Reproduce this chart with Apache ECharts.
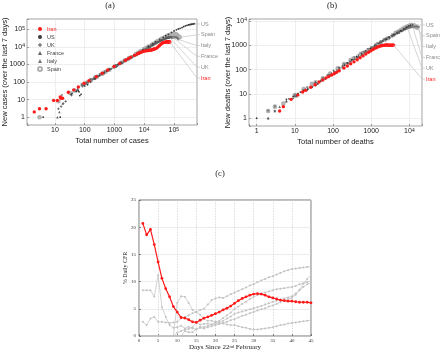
<!DOCTYPE html>
<html>
<head>
<meta charset="utf-8">
<script src="https://cdn.jsdelivr.net/npm/echarts@6/dist/echarts.min.js"></script>
<style>
html, body { margin: 0; padding: 0; background: #fff; }
#chart { width: 440px; height: 351px; }
</style>
</head>
<body>
<div id="chart"></div>
<script>
// (a) total cases vs new cases over the last 7 days, [total, new]
const casesIran = [[2,2],[3,3],[5,3],[9,9],[12,9],[15,14],[16,12],[18,12],[28,26],[43,36],[61,52],[95,85],[139,120],[245,200],[388,320],[593,480],[978,760],[1501,1150],[2336,1750],[2922,2150],[3513,2600],[4747,3300],[5823,3900],[6566,4300],[7161,4600],[8042,5000],[9000,5400],[10075,5700],[11364,5900],[12729,6100],[13938,6200],[14991,6300],[16169,6400],[17361,6600],[18407,6800],[19644,7000],[20610,7300],[21638,7500],[23049,7700],[24811,8000],[27017,8800],[29406,10000],[32332,11500],[35408,13500],[38309,15000],[41495,16500],[44605,17500],[47593,18000],[50468,18500],[53183,19000],[55743,19200],[58226,19500],[60500,19600],[62589,19600],[64586,19500],[66220,19400],[68192,19200],[70029,19000],[71686,19000],[73303,19000]]
const casesUS = [[4,1],[15,1],[35,20],[53,30],[60,33],[64,28],[68,17],[75,20],[100,60],[124,70],[158,100],[221,150],[319,230],[435,330],[541,420],[704,540],[994,760],[1301,1000],[1630,1250],[2183,1650],[2770,2100],[3613,2700],[4596,3400],[6344,4700],[9197,6800],[13779,10500],[19367,15000],[24192,19000],[33592,27000],[43734,35000],[53740,43000],[65778,52000],[83836,66000],[101657,80000],[121478,93000],[140886,104000],[161807,114000],[188172,126000],[213372,140000],[243453,155000],[275586,168000],[308850,178000],[337072,184000],[366667,189000],[396223,194000],[429052,199000],[461437,204000],[496535,208000]]
const casesUK = [[13,3],[16,4],[19,6],[23,8],[36,18],[51,30],[85,62],[115,90],[163,130],[206,165],[273,215],[321,250],[373,280],[456,340],[590,430],[798,570],[1140,800],[1391,950],[1543,1050],[1950,1300],[2626,1750],[3269,2150],[3983,2600],[5018,3200],[5683,3600],[6650,4200],[8077,5100],[9529,6100],[11658,7500],[14543,9300],[17089,11000],[19522,12500],[22141,14500],[25150,16000],[29474,18500],[33718,21000],[38168,23500],[41903,25000],[47806,28000],[51608,29500],[55242,30500],[60733,32000],[65077,33000],[70272,33500],[73758,33000]]
const casesFrance = [[12,1],[14,2],[18,6],[38,24],[57,42],[100,80],[130,105],[191,155],[212,170],[285,230],[423,330],[653,500],[949,700],[1126,820],[1209,850],[1784,1250],[2281,1600],[2876,2000],[3661,2500],[4499,3000],[5423,3500],[6633,4300],[7730,5000],[9134,5900],[10995,7000],[12612,8000],[14459,9200],[16018,10200],[19856,13000],[22304,14800],[25233,16800],[29155,19500],[32964,21500],[37575,24500],[40174,25500],[44550,27500],[52128,31500],[56989,33000],[59105,33500],[64338,35000],[68605,36000],[70478,36000],[74390,37000],[78167,37500],[82048,37500],[86334,36500],[90676,35500]]
const casesItaly = [[17,17],[79,70],[157,140],[229,200],[323,270],[470,380],[655,520],[889,690],[1128,860],[1694,1300],[2036,1550],[2502,1900],[3089,2300],[3858,2800],[4636,3300],[5883,4200],[7375,5200],[9172,6400],[10149,7000],[12462,8600],[15113,10500],[17660,12300],[21157,14800],[24747,17000],[27980,18000],[31506,19400],[35713,20600],[41035,23600],[47021,26900],[53578,29100],[59138,31600],[63927,32200],[69176,33200],[74386,33600],[80589,33500],[86498,33000],[92472,32800],[97689,33000],[101739,33600],[105792,33200],[110574,33800],[115242,33600],[119827,33200],[124632,32200],[128948,30600],[132547,29000],[135586,27700],[139422,27000],[143626,26200]]
const casesSpain = [[3,1],[13,8],[32,24],[45,33],[84,65],[120,95],[165,130],[222,175],[259,200],[400,300],[500,380],[673,500],[1073,800],[1695,1250],[2277,1700],[3146,2300],[5232,3900],[6391,4700],[7798,5800],[9942,7400],[11748,8700],[13910,10300],[17963,13300],[20410,15000],[25374,19000],[28603,21500],[35136,26500],[39885,29500],[49515,35000],[57786,40000],[65719,45000],[73235,47600],[80110,50000],[87956,52000],[95923,53000],[104118,54000],[112065,53500],[119199,51000],[126168,48000],[131646,44000],[136675,40000],[141942,38000],[148220,37000],[153222,36000],[158273,35000]]

// (b) total deaths vs new deaths over the last 7 days, [total, new]
const deathsIran = [[4,2],[5,3],[8,6],[12,9],[16,12],[19,14],[26,19],[34,24],[43,31],[54,38],[66,46],[77,52],[92,60],[107,68],[124,78],[145,90],[194,118],[237,142],[291,175],[354,210],[429,255],[514,310],[611,370],[724,440],[853,520],[988,600],[1135,690],[1284,770],[1433,840],[1556,890],[1685,930],[1812,960],[1934,990],[2077,1000],[2234,1020],[2378,1040],[2517,1040],[2640,1040],[2757,1030],[2898,1030],[3036,1030],[3160,1030],[3294,1010],[3452,1020],[3603,1030],[3739,1030],[3872,1030]]
const deathsUS = [[1,1],[6,6],[9,8],[11,9],[12,10],[14,12],[17,14],[21,15],[22,16],[28,19],[36,24],[40,26],[47,33],[54,36],[63,41],[85,57],[108,72],[118,71],[200,153],[244,190],[307,253],[417,354],[557,470],[706,590],[942,750],[1209,950],[1581,1200],[2026,1500],[2467,1800],[2978,2100],[3873,2800],[4757,3300],[5926,4000],[7087,4800],[8407,5600],[9619,6300],[10783,6800],[12300,7000]]
const deathsUK = [[2,1],[3,2],[6,5],[8,6],[10,8],[21,19],[35,30],[55,45],[71,60],[104,90],[144,120],[177,140],[233,180],[281,220],[335,260],[422,320],[465,340],[578,400],[759,530],[1019,700],[1228,850],[1408,950],[1789,1300],[2352,1750],[2921,2150],[3605,2600],[4313,2900],[4934,3200],[5373,3600],[6159,3800],[7097,4300],[7978,4600],[8958,5000]]
const deathsFrance = [[2,1],[3,2],[4,3],[6,5],[9,7],[11,8],[19,16],[33,25],[48,37],[79,60],[91,72],[127,94],[148,115],[175,127],[264,185],[372,281],[450,323],[562,414],[674,500],[860,600],[1100,836],[1331,1067],[1696,1432],[1995,1623],[2314,1850],[2606,1932],[3024,2164],[3523,2423],[4032,2701],[5387,3391],[6507,4193],[7560,5000],[8078,5400],[8911,5800],[10328,6100],[10869,6000],[12210,5900]]
const deathsItaly = [[2,2],[3,3],[7,6],[10,9],[12,10],[17,14],[21,14],[29,19],[34,22],[52,35],[79,58],[107,78],[148,114],[197,163],[233,186],[366,314],[463,384],[631,517],[827,680],[1016,820],[1266,1030],[1441,1208],[1809,1443],[2158,1695],[2503,1876],[2978,2150],[3405,2389],[4032,2766],[4825,3380],[5476,3667],[6077,3868],[6820,4317],[7503,4525],[8165,4760],[9134,5100],[10023,5200],[10779,5300],[11591,5500],[12428,5600],[13155,5700],[13915,5750],[14681,5800],[15362,5800],[15887,5750],[16523,5700],[17127,5600],[17669,5500]]
const deathsSpain = [[2,2],[3,3],[5,4],[10,9],[17,16],[28,26],[35,30],[54,44],[84,70],[133,115],[195,170],[289,250],[342,290],[533,450],[623,500],[830,640],[1043,750],[1375,1000],[1772,1240],[2311,1700],[2808,2000],[3647,2600],[4365,3300],[5138,3700],[5982,4300],[6803,4900],[7716,5400],[8464,5800],[9387,6200],[10348,6600],[11198,6800],[11947,6900],[12641,6700],[13341,6500],[14045,6200],[14792,5900],[15447,5600],[16081,5300]]

// (c) daily case fatality rate, %
const cfrDays = [1,2,3,4,5,6,7,8,9,10,11,12,13,14,15,16,17,18,19,20,21,22,23,24,25,26,27,28,29,30,31,32,33,34,35,36,37,38,39,40,41,42,43,44,45]
const cfrIran = [20.7,18.6,19.6,16.8,13.6,10.6,8.7,7.2,5.4,4.4, 3.4,3.3,3.0,2.6,2.5,2.9,3.3,3.5,3.8,4.1, 4.4,4.8,5.1,5.5,6.0,6.5,6.9,7.2,7.5,7.7, 7.8,7.7,7.5,7.2,7.0,6.8,6.6,6.5,6.4,6.4, 6.3,6.2,6.2,6.2,6.1]
const cfrItaly = [2.6,2.0,3.2,3.5,2.6,2.6,2.5,2.4,2.5,2.6, 3.2,3.5,3.8,4.2,4.4,4.8,5.0,5.8,6.6,6.9, 7.1,7.0,7.3,7.7,8.0,8.3,8.6,8.9,9.3,9.5, 9.9,10.2,10.5,10.8,11.0,11.3,11.6,11.9,12.1,12.3, 12.4,12.5,12.6,12.7,12.7]
const cfrFrance = [8.4,8.4,8.4,7.2,11.2,5.3,3.5,2.0,1.5,1.6, 1.9,1.4,1.7,1.4,1.2,1.7,1.6,1.9,2.1,2.2, 2.5,2.8,3.2,3.6,4.1,4.3,4.5,4.7,4.9,5.1, 5.3,5.5,5.8,6.0,6.3,6.5,6.7,6.9,7.1,7.3, 7.8,8.4,9.0,9.5,9.8]
const cfrSpain = [0,0,0,0,0,0,0,0,0,0.6, 0.9,1.2,1.3,1.6,2.5,2.1,2.2,2.3,2.1,2.6, 2.8,3.3,3.8,4.3,5.0,5.4,5.9,6.3,6.8,7.2, 7.5,7.8,8.0,8.2,8.4,8.6,8.7,8.8,8.9,9.0, 9.2,9.5,9.7,9.9,10.1]
const cfrUK = [0,0,0,0,0,0,0,0,0,0, 0,0.9,0.7,0.7,1.3,1.5,1.4,1.6,1.8,2.0, 2.2,2.4,2.6,2.9,3.1,3.4,3.7,3.9,4.2,4.4, 4.7,4.9,5.1,5.4,5.6,5.9,6.2,6.5,6.8,7.0, 7.6,8.5,9.6,10.5,11.2]
const cfrUS = [0,0,0,0,0,0,0,0,0,6.1, 7.3,7.2,6.1,4.8,4.4,3.9,3.1,2.8,2.8,2.6, 2.4,2.3,2.1,2.0,2.0,1.8,1.6,1.5,1.3,1.2, 1.2,1.3,1.4,1.5,1.6,1.8,2.0,2.1,2.3,2.4, 2.5,2.6,2.7,2.8,2.9]

const legendNames = ['Iran', 'US', 'UK', 'France', 'Italy', 'Spain']
const leaderNames = ['US', 'Spain', 'Italy', 'France', 'UK', 'Iran']

const SANS = 'Liberation Sans'
const SERIF = 'Liberation Serif'

const look = {
  Iran: {symbol: 'circle', size: 3.4, color: '#ff1a1a', z: 4},
  US: {symbol: 'circle', size: 1.8, color: '#3a3a3a', z: 3},
  UK: {symbol: 'path://M3,0h2v3h3v2h-3v3h-2v-3h-3v-2h3z', size: 2.6, color: '#555', z: 3},
  France: {symbol: 'triangle', size: 2.5, color: '#666', z: 3},
  Italy: {symbol: 'triangle', size: 2.5, color: '#777', rotate: 180, z: 3},
  Spain: {symbol: 'emptyCircle', size: 2.6, color: '#b0b0b0', z: 2}
}

function decadeLabel(v) {
  const l = Math.log10(v)
  const e = Math.round(l)
  if (Math.abs(l - e) > 1e-6) return ''
  if (e <= 3) return String(Math.pow(10, e))
  return '10{sup|' + e + '}'
}

function logAxis(extra) {
  return Object.assign({
    type: 'log',
    logBase: 10,
    axisLine: {show: false},
    axisTick: {show: true, inside: true, length: 2, lineStyle: {color: '#888', width: 0.8}},
    axisLabel: {
      formatter: decadeLabel,
      fontSize: 7, fontFamily: SANS, color: '#222', margin: 2,
      rich: {sup: {fontSize: 5, fontFamily: SANS, color: '#222', verticalAlign: 'top'}}
    },
    splitLine: {show: true, lineStyle: {color: '#d6d6d6', type: 'dotted', width: 0.8}},
    nameLocation: 'middle',
    nameMoveOverlap: false,
    nameTextStyle: {fontSize: 7.5, fontFamily: SANS, color: '#222'}
  }, extra)
}

function scatter(name, data, idx) {
  const s = look[name]
  return {
    type: 'scatter', name: name, data: data,
    xAxisIndex: idx, yAxisIndex: idx,
    symbol: s.symbol, symbolSize: s.size, symbolRotate: s.rotate || 0,
    itemStyle: {color: s.color, borderWidth: s.symbol === 'emptyCircle' ? 0.7 : 0, opacity: 1},
    z: s.z, silent: true
  }
}

function leaders(idx, ends, dy) {
  return {
    type: 'custom', xAxisIndex: idx, yAxisIndex: idx, silent: true, z: 5,
    data: ends,
    renderItem: function (params, api) {
      const p = api.coord([api.value(0), api.value(1)])
      const cs = params.coordSys
      const i = api.value(2)
      const ly = cs.y + dy + i * 10.8
      const rx = cs.x + cs.width
      return {
        type: 'group',
        children: [
          {type: 'polyline', shape: {points: [p, [rx, ly], [rx + 3, ly]]},
            style: {stroke: '#c4c4c4', lineWidth: 0.7, fill: null}},
          {type: 'text', style: {x: rx + 4, y: ly, text: leaderNames[i],
            fill: i === 5 ? '#ff1a1a' : '#8a8a8a', fontSize: 5.5, fontFamily: SANS,
            verticalAlign: 'middle'}}
        ]
      }
    }
  }
}

const last = a => a[a.length - 1]
const endsA = [casesUS, casesSpain, casesItaly, casesFrance, casesUK, casesIran].map((a, i) => [last(a)[0], last(a)[1], i])
const endsB = [deathsUS, deathsSpain, deathsItaly, deathsFrance, deathsUK, deathsIran].map((a, i) => [last(a)[0], last(a)[1], i])

function cfrLine(name, vals, red) {
  return {
    type: 'line', name: name + ' CFR',
    data: cfrDays.map((d, i) => [d, vals[i]]),
    xAxisIndex: 2, yAxisIndex: 2,
    symbol: 'circle', symbolSize: red ? 2.8 : 2, showSymbol: true,
    lineStyle: {color: red ? '#ff1a1a' : '#c6c6c6', width: red ? 1.2 : 0.8},
    itemStyle: {color: red ? '#ff1a1a' : '#c2c2c2', borderWidth: 0},
    z: red ? 4 : 2, silent: true
  }
}

const chart = echarts.init(document.getElementById('chart'), null, {renderer: 'canvas'})

const option = {
  backgroundColor: '#fff',
  animation: false,
  title: [
    {text: '(a)', left: 110, top: 1, padding: 0, textAlign: 'center',
      textStyle: {fontFamily: SERIF, fontSize: 8.5, fontWeight: 'normal', color: '#222'}},
    {text: '(b)', left: 332, top: 1, padding: 0, textAlign: 'center',
      textStyle: {fontFamily: SERIF, fontSize: 8.5, fontWeight: 'normal', color: '#222'}},
    {text: '(c)', left: 220, top: 169, padding: 0, textAlign: 'center',
      textStyle: {fontFamily: SERIF, fontSize: 8.5, fontWeight: 'normal', color: '#222'}}
  ],
  legend: {
    orient: 'vertical', left: 37, top: 26, padding: 0,
    itemWidth: 4, itemHeight: 4, itemGap: 2,
    selectedMode: false,
    textStyle: {fontSize: 5.5, fontFamily: SANS, color: '#444'},
    data: legendNames.map(n => n === 'Iran' ? {name: n, textStyle: {color: '#ff1a1a'}} : n)
  },
  grid: [
    {left: 27, top: 19, width: 170, height: 106, show: true, borderColor: '#8c8c8c', borderWidth: 0.8, outerBoundsMode: 'none'},
    {left: 249, top: 19, width: 173, height: 107, show: true, borderColor: '#8c8c8c', borderWidth: 0.8, outerBoundsMode: 'none'},
    {left: 139, top: 200, width: 172, height: 136, show: true, borderColor: '#555', borderWidth: 0.8, outerBoundsMode: 'none'}
  ],
  xAxis: [
    logAxis({gridIndex: 0, min: 1.14, max: 602000, name: 'Total number of cases', nameGap: 12}),
    logAxis({gridIndex: 1, min: 0.63, max: 21400, name: 'Total number of deaths', nameGap: 12}),
    {
      gridIndex: 2, type: 'value', min: 0, max: 45, interval: 5,
      axisLine: {show: false},
      axisTick: {show: true, inside: true, length: 2, lineStyle: {color: '#555', width: 0.7}},
      axisLabel: {fontSize: 5, fontFamily: SERIF, color: '#333', margin: 2},
      splitLine: {show: true, lineStyle: {color: '#cfcfcf', type: 'dotted', width: 0.8}},
      name: 'Days Since 22{sup|nd} February', nameLocation: 'middle', nameGap: 8,
      nameMoveOverlap: false,
      nameTextStyle: {fontSize: 7, fontFamily: SERIF, color: '#222',
        rich: {sup: {fontSize: 4.5, fontFamily: SERIF, color: '#222', verticalAlign: 'top'}}}
    }
  ],
  yAxis: [
    logAxis({gridIndex: 0, min: 0.36, max: 385000, name: 'New cases (over the last 7 days)', nameGap: 18}),
    logAxis({gridIndex: 1, min: 0.48, max: 12200, name: 'New deaths (over the last 7 days)', nameGap: 17}),
    {
      gridIndex: 2, type: 'value', min: 0, max: 25, interval: 5,
      axisLine: {show: false},
      axisTick: {show: true, inside: true, length: 2, lineStyle: {color: '#555', width: 0.7}},
      axisLabel: {fontSize: 5, fontFamily: SERIF, color: '#333', margin: 3},
      splitLine: {show: true, lineStyle: {color: '#cfcfcf', type: 'dotted', width: 0.8}},
      name: '% Daily CFR', nameLocation: 'middle', nameGap: 11,
      nameMoveOverlap: false,
      nameTextStyle: {fontSize: 6, fontFamily: SERIF, color: '#222'}
    }
  ],
  series: [
    scatter('Spain', casesSpain, 0),
    scatter('Italy', casesItaly, 0),
    scatter('France', casesFrance, 0),
    scatter('UK', casesUK, 0),
    scatter('US', casesUS, 0),
    scatter('Iran', casesIran, 0),
    leaders(0, endsA, 5),

    scatter('Spain', deathsSpain, 1),
    scatter('Italy', deathsItaly, 1),
    scatter('France', deathsFrance, 1),
    scatter('UK', deathsUK, 1),
    scatter('US', deathsUS, 1),
    scatter('Iran', deathsIran, 1),
    leaders(1, endsB, 6),

    cfrLine('Italy', cfrItaly, false),
    cfrLine('France', cfrFrance, false),
    cfrLine('Spain', cfrSpain, false),
    cfrLine('UK', cfrUK, false),
    cfrLine('US', cfrUS, false),
    cfrLine('Iran', cfrIran, true)
  ]
}

chart.setOption(option)
</script>
</body>
</html>
